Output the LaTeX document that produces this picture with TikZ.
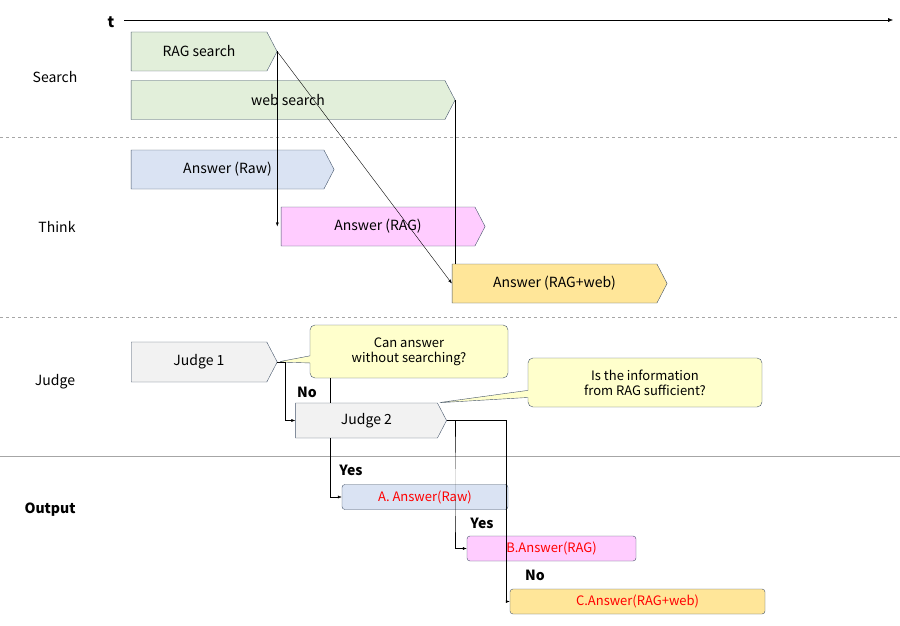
\documentclass[tikz,border=0pt]{standalone}
\usepackage{fontspec}
\setmainfont{Noto Sans CJK JP}
\usetikzlibrary{shapes.symbols,shapes.callouts,arrows.meta,positioning,calc}
\definecolor{edge}{HTML}{44546A}
\definecolor{srch}{HTML}{E2EFDA}
\definecolor{raw}{HTML}{DAE3F3}
\definecolor{rag}{HTML}{FFCCFF}
\definecolor{web}{HTML}{FFE699}
\definecolor{jdg}{HTML}{F2F2F2}
\definecolor{note}{HTML}{FFFFCC}
\begin{document}
\begin{tikzpicture}[
    x=1pt, y=-1pt,
    font=\fontsize{14}{16}\selectfont,
    step box/.style={signal, signal to=east, signal pointer angle=125, draw=edge, inner sep=0pt, minimum height=39pt},
    out box/.style={rectangle, draw=edge, rounded corners=3pt, text=red, inner sep=0pt, minimum height=25pt, font=\fontsize{13}{15}\selectfont},
    note box/.style={rectangle callout, draw=edge, fill=note, rounded corners=5pt, align=center, inner sep=2pt, font=\fontsize{13}{15}\selectfont},
    lane/.style={gray!70, dashed},
    link/.style={-{Latex[length=4pt,width=3pt]}}
]
    \useasboundingbox (0,0) rectangle (900,626);

    % time axis and lanes
    \node[font=\bfseries\fontsize{15}{17}\selectfont] (t) at (111,22) {t};
    \coordinate (tend) at (893,20);
    \draw[-{Latex[length=5pt,width=4pt]}] (124,20) -- (tend);
    \draw[lane] (0,137) -- (900,137);
    \draw[lane] (0,317) -- (900,317);
    \draw[gray!70] (0,456) -- (900,456);
    \node (lsearch) at (55,77) {Search};
    \node (lthink) at (57,227) {Think};
    \node (ljudge) at (55,382) {Judge};
    \node[font=\bfseries\fontsize{14}{16}\selectfont] (lout) at (50,510) {Output};

    % steps
    \node[step box, fill=srch, minimum width=146pt] (ragS) at (199,51.5) {RAG search};
    \node[step box, fill=srch, minimum width=324pt] (webS) at (288,100) {web search};
    \node[step box, fill=raw, minimum width=203pt] (ansRaw) at (227.5,169.5) {Answer (Raw)};
    \node[step box, fill=rag, minimum width=204pt] (ansRag) at (378,226.5) {Answer (RAG)};
    \node[step box, fill=web, minimum width=215pt] (ansWeb) at (554.5,283.5) {Answer (RAG+web)};

    \draw[link] (ragS.east) -- (ragS.east |- ansRag.west);
    \draw[link] (ragS.east) -- (ansWeb.west);
    \draw (webS.east) -- (webS.east |- ansWeb.north);

    % judges
    \node[step box, fill=jdg, minimum width=146pt, minimum height=40pt] (j1) at (199,362) {Judge 1};
    \node[step box, fill=jdg, minimum width=151pt, minimum height=35pt] (j2) at (366.5,420.5) {Judge 2};
    \node[note box, minimum width=198pt, minimum height=53pt, callout absolute pointer={(j1.east)}] (q1) at (409,351.5) {Can answer\\without searching?};
    \node[note box, minimum width=234pt, minimum height=49pt, callout absolute pointer={(j2.north east)}] (q2) at (645,382.5) {Is the information\\from RAG sufficient?};

    \draw[link] (j1.east) -- ++(8,0) |- (j2.west);
    \node[font=\bfseries\fontsize{14}{16}\selectfont] (no1) at (307,392) {No};
    \draw ($(j2.north west)+(35,0)$) -- ($(j2.north west)+(35,-25)$);

    % outputs
    \node[out box, fill=raw, minimum width=166pt] (outA) at (425,497) {A. Answer(Raw)};
    \node[out box, fill=rag, minimum width=169pt] (outB) at (551.5,548.5) {B.Answer(RAG)};
    \node[out box, fill=web, minimum width=255pt] (outC) at (637.5,601.5) {C.Answer(RAG+web)};

    \draw[link] ($(j2.south west)+(35,0)$) |- (outA.west);
    \draw[link] (j2.east) -| ($(outA.north west)+(113,0)$) |- (outB.west);
    \draw[link] (j2.east) -| ($(outA.north east)+(-2,0)$) |- (outC.west);
    \node[font=\bfseries\fontsize{14}{16}\selectfont] (yes1) at (351,470) {Yes};
    \node[font=\bfseries\fontsize{14}{16}\selectfont] (yes2) at (482,523) {Yes};
    \node[font=\bfseries\fontsize{14}{16}\selectfont] (no2) at (535,575) {No};
\end{tikzpicture}
\end{document}
